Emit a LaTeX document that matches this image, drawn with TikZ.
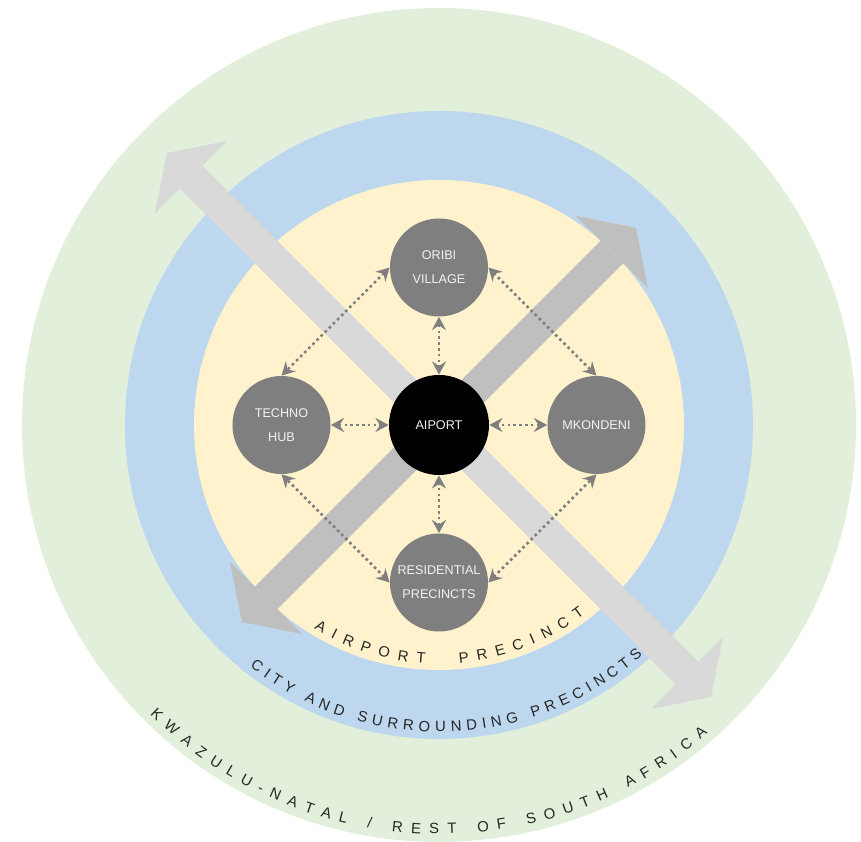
\documentclass[tikz,border=0pt]{standalone}
\usepackage{fontspec}
\setmainfont{Liberation Sans}
\usetikzlibrary{arrows.meta,decorations.text}

\definecolor{ringgreen}{HTML}{E2EFDA}
\definecolor{ringblue}{HTML}{BDD7EE}
\definecolor{ringyellow}{HTML}{FFF2CC}
\definecolor{hubgray}{HTML}{7F7F7F}
\definecolor{flowlight}{HTML}{D9D9D9}
\definecolor{flowdark}{HTML}{BFBFBF}
\newcommand\ringfont{\fontsize{8.5}{10}\selectfont}

\begin{document}
\begin{tikzpicture}[
  hub/.style={circle,fill=hubgray,minimum size=1.96cm,inner sep=0pt,align=center,
    text=white!95!black,font=\fontsize{7.2}{13.5}\selectfont},
  link/.style={{Stealth[length=7.5pt,width=8pt,inset=2.6pt]}-{Stealth[length=7.5pt,width=8pt,inset=2.6pt]},
    draw=hubgray,line width=1.5pt,dash pattern=on 1.5pt off 1.8pt},
  flow/.style={line width=0.64cm,
    {Triangle[length=0.68cm,width=2.04cm,line width=0pt]}-{Triangle[length=0.68cm,width=2.04cm,line width=0pt]}},
  ring/.style={decorate,decoration={text along path,text align={fit to path},text color=black!85}}
]
\useasboundingbox (-8.78,-8.34) rectangle (8.44,8.5);

% rings
\fill[ringgreen] (0,0) circle (8.34);
\fill[ringblue] (0,0) circle (6.28);
\fill[ringyellow] (0,0) circle (4.9);

% big arrows
\coordinate (nw) at (-5.44,5.44);
\coordinate (se) at (5.44,-5.44);
\coordinate (sw) at (-3.94,-3.94);
\coordinate (ne) at (3.94,3.94);
\draw[flow,flowlight] (nw) -- (se);
\draw[flow,flowdark] (sw) -- (ne);

% ring labels
\path[ring,decoration={text={|\ringfont|AIRPORT~~PRECINCT}}]
  (238.5:4.78) arc[start angle=238.5,end angle=307.5,radius=4.78];
\path[ring,decoration={text={|\ringfont|CITY~AND~SURROUNDING~PRECINCTS}}]
  (232:6.14) arc[start angle=232,end angle=311.5,radius=6.14];
\path[ring,decoration={text={|\ringfont|KWAZULU-NATAL~/~REST~OF~SOUTH~AFRICA}}]
  (225:8.18) arc[start angle=225,end angle=311,radius=8.18];

% precincts
\node[hub,fill=black,minimum size=2cm] (airport) at (0,0) {AIPORT};
\node[hub] (oribi) at (0,3.15) {ORIBI\\VILLAGE};
\node[hub] (techno) at (-3.15,0) {TECHNO\\HUB};
\node[hub] (mkondeni) at (3.15,0) {MKONDENI};
\node[hub] (residential) at (0,-3.15) {RESIDENTIAL\\PRECINCTS};

\draw[link] (oribi) -- (airport);
\draw[link] (techno) -- (airport);
\draw[link] (mkondeni) -- (airport);
\draw[link] (residential) -- (airport);
\draw[link] (oribi.west) -- (techno.north);
\draw[link] (oribi.east) -- (mkondeni.north);
\draw[link] (residential.west) -- (techno.south);
\draw[link] (residential.east) -- (mkondeni.south);
\end{tikzpicture}
\end{document}
